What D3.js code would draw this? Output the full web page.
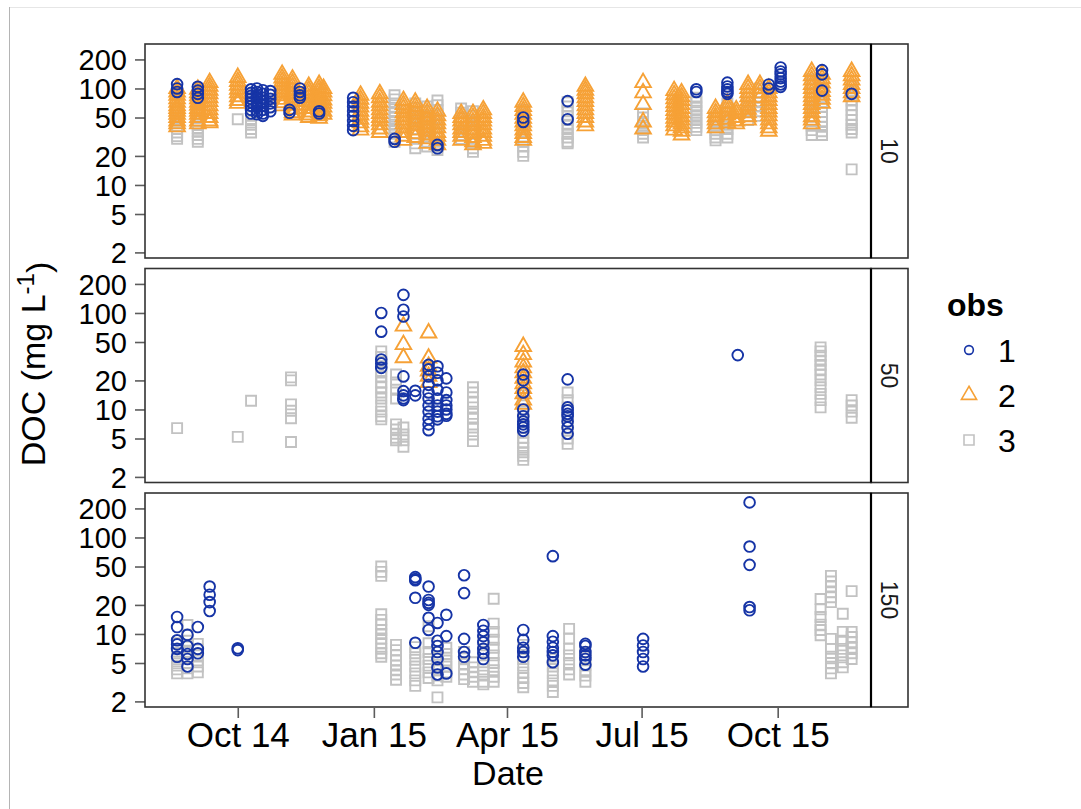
<!DOCTYPE html>
<html>
<head>
<meta charset="utf-8">
<script src="https://cdn.jsdelivr.net/npm/d3@7"></script>
<style>
  html, body { margin: 0; padding: 0; background: #fff; }
  svg { display: block; }
</style>
</head>
<body>
<script>
// ---------------- DATA ----------------
const depthLabels = ["10", "50", "150"];
const obsLabels = ["1", "2", "3"];
const xTickDates = ["2014-10-01", "2015-01-01", "2015-04-01", "2015-07-01", "2015-10-01"];
const yTickValues = [2, 5, 10, 20, 50, 100, 200];

// depth 10
const d10_obs1 = [
  ["2014-08-21", [111, 100, 92]],
  ["2014-09-04", [104, 95, 88, 80]],
  ["2014-10-10", [98, 90, 84, 78, 72, 66, 60, 55]],
  ["2014-10-14", [100, 92, 85, 78, 70, 64, 58, 54]],
  ["2014-10-18", [96, 88, 80, 73, 66, 60, 55, 52]],
  ["2014-10-23", [94, 86, 78, 70, 64, 58]],
  ["2014-11-05", [60, 56]],
  ["2014-11-12", [100, 92, 85, 80]],
  ["2014-11-25", [58, 55]],
  ["2014-12-18", [80, 72, 65, 58, 52, 46, 41, 37]],
  ["2015-01-15", [30, 28]],
  ["2015-02-13", [26, 24]],
  ["2015-04-12", [50, 45]],
  ["2015-05-12", [74, 48]],
  ["2015-08-07", [98, 92]],
  ["2015-08-28", [115, 105, 98, 92, 88]],
  ["2015-09-25", [110, 100]],
  ["2015-10-03", [165, 150, 140, 128, 118, 110, 104]],
  ["2015-10-31", [155, 140, 95]],
  ["2015-11-20", [88]]
];
const d10_obs2 = [
  ["2014-08-21", [100, 92, 85, 78, 72, 66, 62, 58, 54, 50, 46, 43, 40]],
  ["2014-09-04", [98, 90, 84, 78, 72, 67, 62, 58, 54, 50, 46, 43]],
  ["2014-09-12", [115, 105, 96, 88, 80, 73, 66, 60, 55, 50, 46, 44]],
  ["2014-10-01", [130, 118, 108, 98, 90, 82, 75, 70]],
  ["2014-10-31", [140, 128, 118, 108, 99, 91, 84, 77, 71, 66]],
  ["2014-11-07", [125, 114, 104, 95, 87, 80, 73, 67, 61, 56, 53]],
  ["2014-11-18", [105, 96, 88, 80, 73, 67, 62, 57, 53, 50]],
  ["2014-11-25", [110, 100, 92, 84, 77, 71, 65, 60, 56, 52, 49]],
  ["2014-11-28", [100, 92, 84, 76, 70, 64, 58, 54]],
  ["2014-12-23", [85, 77, 70, 64, 58, 53, 48, 44, 40, 37]],
  ["2015-01-05", [88, 80, 72, 66, 60, 55, 50, 46, 42, 38, 35]],
  ["2015-01-21", [75, 68, 62, 56, 51, 47, 43, 39, 35, 32, 29]],
  ["2015-01-29", [72, 65, 59, 54, 49, 45, 41, 37, 34, 31]],
  ["2015-02-06", [62, 56, 51, 47, 43, 39, 36, 33, 30, 27]],
  ["2015-02-13", [58, 52, 47, 43, 39, 35, 32, 29, 26]],
  ["2015-03-01", [55, 50, 46, 42, 38, 35, 32, 29]],
  ["2015-03-09", [55, 50, 45, 41, 37, 34, 31, 28, 26]],
  ["2015-03-16", [60, 55, 50, 46, 42, 38, 35, 32, 29, 27]],
  ["2015-04-12", [72, 65, 59, 54, 49, 45, 41, 37, 34, 31, 29]],
  ["2015-05-24", [105, 96, 88, 80, 73, 66, 60, 55, 50, 45, 41]],
  ["2015-07-02", [115, 90, 68, 45, 38]],
  ["2015-07-23", [95, 86, 78, 71, 65, 59, 54, 49, 45, 41, 37]],
  ["2015-07-28", [90, 82, 75, 68, 62, 56, 51, 47, 43, 39, 36, 33]],
  ["2015-08-20", [62, 56, 51, 47, 43, 39]],
  ["2015-08-28", [70, 64, 58, 53, 48, 44]],
  ["2015-09-03", [60, 55, 50, 46, 43]],
  ["2015-09-11", [110, 100, 90, 82, 74, 67, 61, 56, 51, 47]],
  ["2015-09-19", [110, 100, 90, 80]],
  ["2015-09-25", [100, 90, 82, 75, 68, 62, 57, 52, 47, 43, 39, 36]],
  ["2015-10-24", [150, 135, 122, 110, 100, 90, 82, 75, 68, 62, 56, 51, 47, 43]],
  ["2015-10-31", [140, 126, 114, 103, 93, 85, 77, 70]],
  ["2015-11-20", [150, 135, 122, 110, 100, 90, 82]]
];
const d10_obs3 = [
  ["2014-08-21", [62, 57, 52, 48, 44, 41, 38, 35, 32, 30]],
  ["2014-09-04", [60, 55, 50, 46, 42, 39, 36, 33, 30, 28]],
  ["2014-10-01", [48]],
  ["2014-10-10", [88, 80, 72, 65, 58, 52, 47, 42, 38, 35]],
  ["2015-01-15", [85, 77, 70, 63, 57, 51, 46, 42, 38, 34, 31, 28]],
  ["2015-01-29", [70, 63, 57, 51, 46, 42, 38, 34, 30, 27, 24]],
  ["2015-02-06", [65, 58, 52, 47, 42, 38, 34, 31, 28, 25]],
  ["2015-02-13", [75, 67, 60, 54, 48, 43, 39, 35, 31, 28, 25, 23]],
  ["2015-03-01", [62, 56, 50, 45, 40, 36, 33, 30]],
  ["2015-03-09", [58, 52, 47, 42, 38, 34, 30, 27, 24, 22]],
  ["2015-04-12", [60, 54, 48, 43, 39, 35, 31, 28, 25, 22, 20]],
  ["2015-05-12", [72, 65, 58, 52, 47, 42, 38, 34, 31, 28, 27]],
  ["2015-07-02", [55, 50, 45, 41, 37, 34, 31]],
  ["2015-08-07", [80, 72, 65, 59, 53, 48, 44, 40, 37]],
  ["2015-08-20", [50, 45, 41, 37, 34, 31, 29]],
  ["2015-08-28", [70, 63, 57, 51, 46, 42, 38, 34, 31]],
  ["2015-09-11", [80, 72, 65, 58, 52, 47]],
  ["2015-09-19", [100, 90, 80, 72, 65, 58, 52]],
  ["2015-10-24", [125, 112, 100, 90, 80, 72, 64, 57, 51, 46, 41, 37, 33]],
  ["2015-10-31", [100, 90, 80, 72, 64, 57, 51, 45, 40, 36, 33]],
  ["2015-11-20", [105, 94, 84, 75, 67, 60, 53, 47, 42, 38, 35, 14.5]]
];

// depth 50
const d50_obs1 = [
  ["2015-01-06", [100, 64, 33, 30, 27]],
  ["2015-01-21", [154, 108, 92, 22, 15.5, 14, 13, 12.5]],
  ["2015-01-29", [15.6, 14]],
  ["2015-02-07", [29, 26, 22, 18, 15, 13, 11, 9.5, 8, 7, 6.1]],
  ["2015-02-13", [28, 24, 20, 16, 13, 11, 9.5, 8.5, 7.9]],
  ["2015-02-19", [21, 15, 12.5, 11, 10, 9, 8.6]],
  ["2015-04-12", [23, 20, 15, 10, 8.5, 7.5, 7, 6.5, 6]],
  ["2015-05-12", [20.5, 10.5, 9.8, 9, 8.5, 7.5, 6.5, 5.6]],
  ["2015-09-04", [36.6]]
];
const d50_obs2 = [
  ["2015-01-21", [73, 47, 34.4]],
  ["2015-02-07", [62, 34, 28, 25, 22, 19]],
  ["2015-04-12", [45, 37, 31, 27, 24, 21, 18.5, 16.5, 14.5, 12.5, 11.3]]
];
const d50_obs3 = [
  ["2014-08-21", [6.4]],
  ["2014-10-01", [5.2]],
  ["2014-10-10", [12.3]],
  ["2014-11-06", [21.5, 20, 11.3, 9.7, 8.1, 4.6]],
  ["2015-01-06", [40, 35, 31, 28, 25, 22, 19, 17, 15, 13, 11, 9.5, 8.5, 7.9]],
  ["2015-01-16", [23, 19, 16, 13, 7, 6.2, 5.6, 5.1, 4.8]],
  ["2015-01-21", [6.5, 5.5, 4.8, 4.1]],
  ["2015-03-09", [17, 15, 12, 10.5, 9, 8, 6.5, 5.5, 4.7]],
  ["2015-04-12", [14, 12, 10, 8.5, 7.5, 6.5, 5.8, 5.1, 4.5, 4, 3.6, 3.3, 3.0]],
  ["2015-05-12", [15, 12.5, 10.5, 8.5, 7, 6, 5, 4.4]],
  ["2015-10-30", [44, 40, 36, 32, 29, 26, 23, 20, 17, 14.5, 12.5, 10.5]],
  ["2015-11-20", [12.5, 11, 9.5, 8.2]]
];

// depth 150
const d150_obs1 = [
  ["2014-08-21", [15, 11.8, 8.6, 7.8, 7, 5.8]],
  ["2014-08-28", [9.8, 7.5, 6.2, 5.5, 4.6]],
  ["2014-09-04", [11.8, 7, 6.3]],
  ["2014-09-12", [31, 25.5, 21.4, 17.3]],
  ["2014-10-01", [7.1, 6.8]],
  ["2015-01-29", [38.8, 37, 36, 23.7, 8.1]],
  ["2015-02-07", [31, 22.5, 21, 20, 14.7, 11]],
  ["2015-02-13", [13, 8.5, 7.5, 6.5, 5.5, 4.5, 3.8]],
  ["2015-02-19", [15.8, 9.5, 3.9]],
  ["2015-03-03", [40.6, 26.5, 8.9, 6.5, 5.8]],
  ["2015-03-16", [12.4, 10.8, 9.5, 8.2, 7.0, 6.3, 5.5]],
  ["2015-04-12", [11, 8.7, 7.2, 6.5, 5.8]],
  ["2015-05-02", [64, 9.5, 8.3, 7.2, 6.5, 6, 5.1]],
  ["2015-05-24", [7.9, 7.5, 6.5, 6, 5.5, 4.8]],
  ["2015-07-02", [8.9, 7.6, 6.5, 5.5, 4.6]],
  ["2015-09-12", [231, 80.5, 52, 19, 17.6]]
];
const d150_obs2 = [];
const d150_obs3 = [
  ["2014-08-21", [8, 7, 6.3, 5.7, 5.2, 4.7, 4.3, 3.9]],
  ["2014-08-28", [12.4, 9.8, 8.5, 7.4, 6.5, 5.7, 5, 4.4, 3.9]],
  ["2014-09-04", [7.9, 6.9, 6, 5.3, 4.6, 4]],
  ["2015-01-06", [50, 44, 40, 16, 14, 12.5, 11, 10, 9, 8, 7, 6.3, 5.8]],
  ["2015-01-16", [7.7, 6.8, 6, 5.3, 4.7, 4.2, 3.8, 3.35]],
  ["2015-01-29", [7.3, 6.3, 5.4, 4.6, 3.9, 3.3, 2.9]],
  ["2015-02-07", [12, 8, 6.5, 5.5, 4.7, 4, 3.5]],
  ["2015-02-13", [7.5, 6.5, 5.6, 4.8, 4.2, 3.7, 3.3, 2.2]],
  ["2015-02-19", [7.2, 6.2, 5.3, 4.6, 4, 3.6]],
  ["2015-03-03", [6.5, 5.6, 4.9, 4.3, 3.8, 3.4]],
  ["2015-03-09", [5.1, 4.5, 4, 3.6, 3.2]],
  ["2015-03-16", [8.3, 7, 6, 5.1, 4.3, 3.7, 3.2, 3.0]],
  ["2015-03-23", [23.2, 12.8, 10.5, 8.7, 7.2, 6, 5, 4.2, 3.6, 3.2]],
  ["2015-04-12", [7.7, 6.5, 5.5, 4.7, 4, 3.5, 3.1, 2.8]],
  ["2015-05-02", [5.5, 4.6, 3.9, 3.3, 2.9, 2.5]],
  ["2015-05-13", [11.3, 9, 7, 6, 5, 4.3, 3.8]],
  ["2015-05-24", [6.5, 5.6, 4.8, 4.2, 3.7, 3.2]],
  ["2015-10-30", [23, 18, 15, 12.5, 11, 9.7]],
  ["2015-11-06", [40, 35, 31, 27, 24, 21.4, 8.9, 7, 5.8, 5, 4.4, 3.9]],
  ["2015-11-14", [16.2, 10.5, 8.5, 7, 6, 5.1, 4.5]],
  ["2015-11-20", [27.8, 10.5, 9.3, 8.2, 7.2, 6.3, 5.5]]
];

// ---------------- LAYOUT / STYLE ----------------
const W = 1081, H = 809;
const FONT = "'Liberation Sans', Arial, Helvetica, sans-serif";
const colors = {"1": "#1634a6", "2": "#f6a136", "3": "#c2c2c2"};
const plotL = 145, plotR = 871, stripR = 908;
const panelTops = [44, 268.5, 493], panelH = 214;

const parse = d3.utcParse("%Y-%m-%d");
const x = d3.scaleUtc()
  .domain([new Date(Date.UTC(2014, 6, 30, 7)), new Date(Date.UTC(2015, 11, 3, 2))])
  .range([plotL, plotR]);

const symbolType = {"1": d3.symbolCircle, "2": d3.symbolTriangle, "3": d3.symbolSquare};
const symbolSize = {"1": 90, "2": 105, "3": 100};
const legendSize = {"1": 60, "2": 100, "3": 100};

const panelData = [
  {"1": d10_obs1, "2": d10_obs2, "3": d10_obs3},
  {"1": d50_obs1, "2": d50_obs2, "3": d50_obs3},
  {"1": d150_obs1, "2": d150_obs2, "3": d150_obs3}
];

const svg = d3.select("body").append("svg")
  .attr("width", W).attr("height", H)
  .style("font-family", FONT);

svg.append("rect").attr("width", W).attr("height", H).attr("fill", "#fff");
// faint page frame
svg.append("line").attr("x1", 9).attr("x2", W).attr("y1", 7.5).attr("y2", 7.5)
  .attr("stroke", "#e6e6e6").attr("stroke-width", 1);
svg.append("line").attr("x1", 9.5).attr("x2", 9.5).attr("y1", 7).attr("y2", H)
  .attr("stroke", "#b4b4b4").attr("stroke-width", 1);

const drawOrder = ["3", "2", "1"];

panelData.forEach((pd, i) => {
  const top = panelTops[i], bottom = top + panelH;
  const y = d3.scaleLog().domain([1.75, 289]).range([bottom, top]);
  const g = svg.append("g");

  // y axis
  const yAxis = d3.axisLeft(y).tickValues(yTickValues).tickFormat(d3.format("d"))
    .tickSize(10).tickPadding(8);
  const ya = g.append("g").attr("transform", `translate(${plotL},0)`).call(yAxis);
  ya.select(".domain").remove();
  ya.selectAll(".tick line").attr("stroke", "#5c5c5c").attr("stroke-width", 1.6);
  ya.selectAll(".tick text").attr("fill", "#000").style("font-size", "29px")
    .style("font-family", FONT).attr("dy", "0.36em");

  // points
  const clip = "clip" + i;
  svg.append("clipPath").attr("id", clip).append("rect")
    .attr("x", plotL).attr("y", top).attr("width", plotR - plotL).attr("height", panelH);
  const pg = g.append("g").attr("clip-path", `url(#${clip})`);
  drawOrder.forEach(o => {
    const pts = [];
    pd[o].forEach(([ds, vals]) => vals.forEach(v => pts.push({d: parse(ds), v})));
    pg.selectAll(null).data(pts).enter().append("path")
      .attr("d", d3.symbol().type(symbolType[o]).size(symbolSize[o]))
      .attr("transform", p => `translate(${x(p.d)},${y(p.v)})`)
      .attr("fill", "none").attr("stroke", colors[o]).attr("stroke-width", 1.9);
  });

  // panel border
  g.append("rect").attr("x", plotL).attr("y", top).attr("width", plotR - plotL).attr("height", panelH)
    .attr("fill", "none").attr("stroke", "#333").attr("stroke-width", 1.6);
  // strip
  g.append("rect").attr("x", plotR).attr("y", top).attr("width", stripR - plotR).attr("height", panelH)
    .attr("fill", "#fff").attr("stroke", "#333").attr("stroke-width", 1.6);
  g.append("line").attr("x1", plotR).attr("x2", plotR).attr("y1", top).attr("y2", bottom)
    .attr("stroke", "#000").attr("stroke-width", 2.2);
  g.append("text")
    .attr("transform", `translate(${(plotR + stripR) / 2},${top + panelH / 2}) rotate(90)`)
    .attr("text-anchor", "middle").attr("dy", "0.36em")
    .style("font-size", "23px").attr("fill", "#1a1a1a")
    .text(depthLabels[i]);

  // x axis on bottom panel
  if (i === panelData.length - 1) {
    const xAxis = d3.axisBottom(x).tickValues(xTickDates.map(parse))
      .tickFormat(d3.utcFormat("%b %y")).tickSize(11).tickPadding(4);
    const xa = g.append("g").attr("transform", `translate(0,${bottom})`).call(xAxis);
    xa.select(".domain").remove();
    xa.selectAll(".tick line").attr("stroke", "#5c5c5c").attr("stroke-width", 1.6);
    xa.selectAll(".tick text").attr("fill", "#000").style("font-size", "35px")
      .style("font-family", FONT);
  }
});

// axis titles
svg.append("text").attr("x", (plotL + plotR) / 2).attr("y", 785)
  .attr("text-anchor", "middle").style("font-size", "34px").attr("fill", "#000")
  .text("Date");

const yt = svg.append("text")
  .attr("transform", "translate(45,364) rotate(-90)")
  .attr("text-anchor", "middle").style("font-size", "34px").attr("fill", "#000");
yt.append("tspan").text("DOC (mg L");
yt.append("tspan").attr("dy", "-0.45em").style("font-size", "24px").text("-1");
yt.append("tspan").attr("dy", "0.45em").text(")");

// legend
const lg = svg.append("g");
lg.append("text").attr("x", 947).attr("y", 316).style("font-size", "32px")
  .style("font-weight", "bold").attr("fill", "#000").text("obs");
obsLabels.forEach((o, k) => {
  const cy = 350 + k * 45;
  lg.append("path")
    .attr("d", d3.symbol().type(symbolType[o]).size(legendSize[o]))
    .attr("transform", `translate(969,${cy})`)
    .attr("fill", "none").attr("stroke", colors[o]).attr("stroke-width", 1.6);
  lg.append("text").attr("x", 998).attr("y", cy).attr("dy", "0.36em")
    .style("font-size", "32px").attr("fill", "#000").text(o);
});
</script>
</body>
</html>
